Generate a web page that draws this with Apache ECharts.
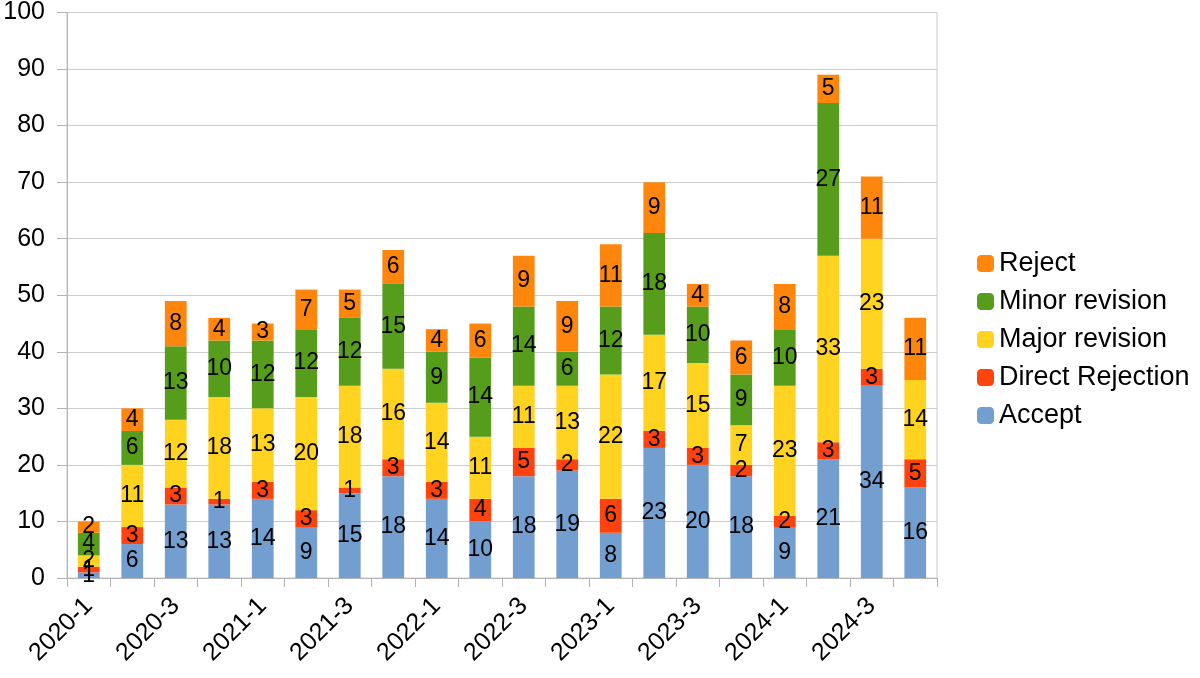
<!DOCTYPE html>
<html>
<head>
<meta charset="utf-8">
<script src="https://cdn.jsdelivr.net/npm/echarts@6/dist/echarts.min.js"></script>
<style>
html, body { margin: 0; padding: 0; background: #fff; }
#chart { width: 1200px; height: 678px; }
</style>
</head>
<body>
<div id="chart"></div>
<script>
// quarters 2020-1 .. 2024-4
var categories = ['2020-1','2020-2','2020-3','2020-4','2021-1','2021-2','2021-3','2021-4',
    '2022-1','2022-2','2022-3','2022-4','2023-1','2023-2','2023-3','2023-4',
    '2024-1','2024-2','2024-3','2024-4'];
var accept        = [1, 6, 13, 13, 14, 9, 15, 18, 14, 10, 18, 19, 8, 23, 20, 18, 9, 21, 34, 16];
var directReject  = [1, 3, 3, 1, 3, 3, 1, 3, 3, 4, 5, 2, 6, 3, 3, 2, 2, 3, 3, 5];
var majorRevision = [2, 11, 12, 18, 13, 20, 18, 16, 14, 11, 11, 13, 22, 17, 15, 7, 23, 33, 23, 14];
var minorRevision = [4, 6, 13, 10, 12, 12, 12, 15, 9, 14, 14, 6, 12, 18, 10, 9, 10, 27, 0, 0];
var reject        = [2, 4, 8, 4, 3, 7, 5, 6, 4, 6, 9, 9, 11, 9, 4, 6, 8, 5, 11, 11];
var yTicks = [0, 10, 20, 30, 40, 50, 60, 70, 80, 90, 100];

var seriesNames = ['Accept', 'Direct Rejection', 'Major revision', 'Minor revision', 'Reject'];
var seriesValues = [accept, directReject, majorRevision, minorRevision, reject];
var colors = ['#729fcf', '#ff420e', '#ffd320', '#579d1c', '#ff860d'];

var fontName = 'Liberation Sans';

var series = [];
for (var i = 0; i < seriesNames.length; i++) {
    series.push({
        name: seriesNames[i],
        type: 'bar',
        stack: 'total',
        barWidth: '50%',
        data: seriesValues[i],
        itemStyle: { color: colors[i] },
        label: {
            show: true,
            position: 'inside',
            color: '#000',
            fontFamily: fontName,
            fontSize: 23,
            formatter: function (p) { return p.value === 0 ? '' : p.value; }
        }
    });
}

var myChart = echarts.init(document.getElementById('chart'));
var option = {
    animation: false,
    backgroundColor: '#fff',
    color: colors,
    grid: {
        left: 67, right: 263, top: 12, bottom: 100,
        show: true, borderColor: '#cccccc', borderWidth: 1
    },
    legend: {
        orient: 'vertical',
        left: 972,
        top: 245,
        itemWidth: 17,
        itemHeight: 17,
        itemGap: 11,
        data: seriesNames.slice().reverse(),
        textStyle: { fontFamily: fontName, fontSize: 27, color: '#000' }
    },
    xAxis: {
        type: 'category',
        data: categories,
        axisLine: { lineStyle: { color: '#b3b3b3' } },
        axisTick: { show: true, interval: 0, length: 9, lineStyle: { color: '#b3b3b3' } },
        axisLabel: {
            interval: 1,
            rotate: 45,
            margin: 24,
            fontFamily: fontName,
            fontSize: 25,
            color: '#000'
        }
    },
    yAxis: {
        type: 'value',
        min: yTicks[0],
        max: yTicks[yTicks.length - 1],
        interval: 10,
        axisLine: { show: true, lineStyle: { color: '#b3b3b3' } },
        axisTick: { show: true, length: 10, lineStyle: { color: '#b3b3b3' } },
        axisLabel: { fontFamily: fontName, fontSize: 25, color: '#000', margin: 22 },
        splitLine: { lineStyle: { color: '#cccccc' } }
    },
    series: series
};
myChart.setOption(option);
</script>
</body>
</html>
